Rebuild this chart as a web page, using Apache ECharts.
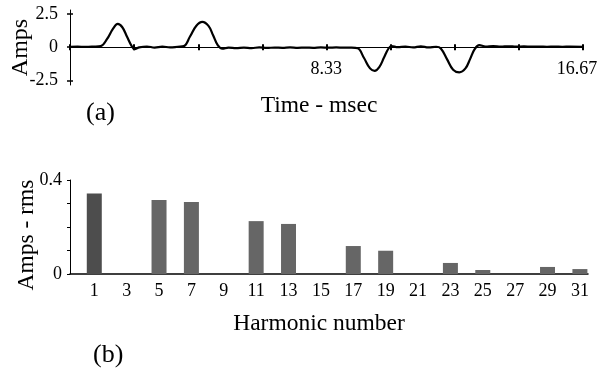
<!DOCTYPE html>
<html>
<head>
<meta charset="utf-8">
<script src="https://cdn.jsdelivr.net/npm/echarts@6/dist/echarts.min.js"></script>
<style>
  html, body { margin: 0; padding: 0; background: #fff; }
  #chart { width: 597px; height: 368px; }
</style>
</head>
<body>
<div id="chart"></div>
<script>
// (a) line current waveform
var timeMs = [0, 0.25, 0.5, 0.75, 1.0, 1.2, 1.4, 1.55, 1.7, 1.85, 2.0, 2.1, 2.25, 2.5, 2.75, 3.0, 3.25, 3.5, 3.7, 3.9,
  4.1, 4.3, 4.5, 4.65, 4.8, 4.95, 5.15, 5.4, 5.65, 5.9, 6.15, 6.4, 6.65, 6.9, 7.15, 7.4, 7.65, 7.9, 8.15, 8.4,
  8.65, 8.9, 9.15, 9.35, 9.55, 9.75, 9.9, 10.05, 10.2, 10.35, 10.45, 10.65, 10.9, 11.15, 11.4, 11.65, 11.9, 12.05,
  12.25, 12.45, 12.65, 12.85, 13.0, 13.15, 13.3, 13.5, 13.75, 14.0, 14.25, 14.5, 14.75, 15.0, 15.25, 15.5, 15.75,
  16.0, 16.25, 16.67];
var currentAmps = [0.03, 0.04, 0.02, 0.04, 0.08, 0.6, 1.4, 1.75, 1.5, 0.8, 0.1, -0.15, -0.02, 0.05, -0.03, 0.04, -0.02, 0.03, 0.08, 0.8,
  1.6, 1.9, 1.6, 0.9, 0.15, -0.12, -0.04, -0.08, -0.03, -0.07, -0.02, -0.06, -0.03, -0.05, -0.02, -0.05, -0.03, -0.05, -0.02, -0.04,
  -0.02, -0.04, -0.03, -0.08, -0.8, -1.6, -1.78, -1.5, -0.8, -0.1, 0.08, 0.0, 0.05, -0.02, 0.06, -0.02, 0.03, -0.1,
  -0.9, -1.7, -1.9, -1.6, -0.9, -0.15, 0.15, 0.05, 0.08, 0.04, 0.07, 0.04, 0.06, 0.04, 0.05, 0.03, 0.05,
  0.03, 0.04, 0.03];
var timeTicks = [0, 2.08, 4.17, 6.25, 8.33, 10.42, 12.5, 14.58, 16.67];
var timeLabels = [8.33, 16.67];
var ampTicks = [-2.5, 0, 2.5];

// (b) harmonic spectrum
var harmonicAxis = ['0', '1', '2', '3', '4', '5', '6', '7', '8', '9', '10', '11', '12', '13', '14', '15',
  '16', '17', '18', '19', '20', '21', '22', '23', '24', '25', '26', '27', '28', '29', '30', '31'];
var harmonics = ['1', '5', '7', '11', '13', '17', '19', '23', '25', '29', '31'];
var rmsAmps = [0.343, 0.315, 0.306, 0.225, 0.213, 0.119, 0.099, 0.047, 0.017, 0.030, 0.021];
var rmsLabels = [0, 0.4];

var FONT = 'Liberation Serif';
var ink = '#000';

var chart = echarts.init(document.getElementById('chart'), null, { renderer: 'canvas' });

var option = {
  backgroundColor: '#fff',
  animation: false,
  grid: [
    { left: 70, right: 14, top: 10, height: 75, outerBoundsMode: 'none', containLabel: false },
    { left: 70, right: 9, top: 180, height: 94, outerBoundsMode: 'none', containLabel: false }
  ],
  xAxis: [
    {
      gridIndex: 0, type: 'value', min: 0, max: 16.67,
      axisLine: { onZero: true, onZeroAxisIndex: 0, lineStyle: { color: ink, width: 1 } },
      axisTick: { customValues: timeTicks, length: 3, lineStyle: { color: ink, width: 2 } },
      axisLabel: {
        customValues: timeLabels, margin: -25, fontFamily: FONT, fontSize: 18, color: ink,
        formatter: function (v) { return v > 16 ? '{r|' + v.toFixed(2) + '}' : v.toFixed(2); },
        rich: { r: { fontFamily: FONT, fontSize: 18, color: ink, padding: [0, 12, 0, 0] } }
      },
      splitLine: { show: false },
      name: 'Time - msec', nameLocation: 'middle', nameGap: 9,
      nameTextStyle: { fontFamily: FONT, fontSize: 23.5, color: ink, padding: [0, 15, 0, 0] }
    },
    {
      gridIndex: 0, type: 'value', min: 0, max: 16.67, position: 'bottom',
      axisLine: { show: false, onZero: true, onZeroAxisIndex: 1 },
      axisTick: { customValues: timeTicks, inside: true, length: 3, lineStyle: { color: ink, width: 2 } },
      axisLabel: { show: false },
      splitLine: { show: false }
    },
    {
      gridIndex: 1, type: 'category', data: harmonicAxis, boundaryGap: true,
      axisLine: { lineStyle: { color: ink, width: 1.5 } },
      axisTick: { interval: 0, length: 3, lineStyle: { color: ink } },
      axisLabel: {
        margin: 8, fontFamily: FONT, fontSize: 18, color: ink,
        interval: function (i) { return i % 2 === 1; }
      },
      name: 'Harmonic number', nameLocation: 'middle', nameGap: 38,
      nameTextStyle: { fontFamily: FONT, fontSize: 23.5, color: ink, padding: [0, 20, 0, 0] }
    },
    {
      gridIndex: 1, type: 'category', data: harmonicAxis, boundaryGap: true, position: 'bottom',
      axisLine: { show: false },
      axisTick: { interval: 0, inside: true, length: 3, lineStyle: { color: ink } },
      axisLabel: { show: false }
    }
  ],
  yAxis: [
    {
      gridIndex: 0, type: 'value', min: -2.85, max: 2.8,
      axisLine: { show: true, onZero: false, lineStyle: { color: ink, width: 1 } },
      axisTick: { customValues: ampTicks, length: 3, lineStyle: { color: ink, width: 1.5 } },
      axisLabel: { customValues: ampTicks, margin: 12, fontFamily: FONT, fontSize: 18, color: ink },
      splitLine: { show: false },
      name: 'Amps', nameLocation: 'middle', nameRotate: 90, nameGap: 37, nameMoveOverlap: false,
      nameTextStyle: { fontFamily: FONT, fontSize: 24, color: ink }
    },
    {
      gridIndex: 0, type: 'value', min: -2.85, max: 2.8, position: 'left', offset: 0,
      axisLine: { show: false, onZero: false },
      axisTick: { customValues: ampTicks, inside: true, length: 3, lineStyle: { color: ink, width: 1.5 } },
      axisLabel: { show: false },
      splitLine: { show: false }
    },
    {
      gridIndex: 1, type: 'value', min: 0, max: 0.4, interval: 0.1,
      axisLine: { show: true, lineStyle: { color: ink, width: 1 } },
      axisTick: { show: true, length: 3, lineStyle: { color: ink } },
      axisLabel: { customValues: rmsLabels, margin: 8, fontFamily: FONT, fontSize: 18, color: ink },
      splitLine: { show: false },
      name: 'Amps - rms', nameLocation: 'middle', nameRotate: 90, nameGap: 31, nameMoveOverlap: false,
      nameTextStyle: { fontFamily: FONT, fontSize: 23.5, color: ink, padding: [0, 16, 0, 0] }
    }
  ],
  series: [
    {
      type: 'line', xAxisIndex: 0, yAxisIndex: 0, smooth: 0.4, showSymbol: false,
      lineStyle: { color: ink, width: 2.2 },
      data: timeMs.map(function (t, i) { return [t, currentAmps[i]]; })
    },
    {
      type: 'bar', xAxisIndex: 2, yAxisIndex: 2, barWidth: 15,
      itemStyle: {
        color: function (p) { return p.dataIndex === 0 ? '#4d4d4d' : '#666666'; }
      },
      data: harmonics.map(function (h, i) { return [h, rmsAmps[i]]; })
    }
  ],
  graphic: [
    { type: 'text', left: 86, top: 100, style: { text: '(a)', fontFamily: FONT, fontSize: 26, fill: ink } },
    { type: 'text', left: 93, top: 342, style: { text: '(b)', fontFamily: FONT, fontSize: 26, fill: ink } }
  ]
};

chart.setOption(option);
</script>
</body>
</html>
